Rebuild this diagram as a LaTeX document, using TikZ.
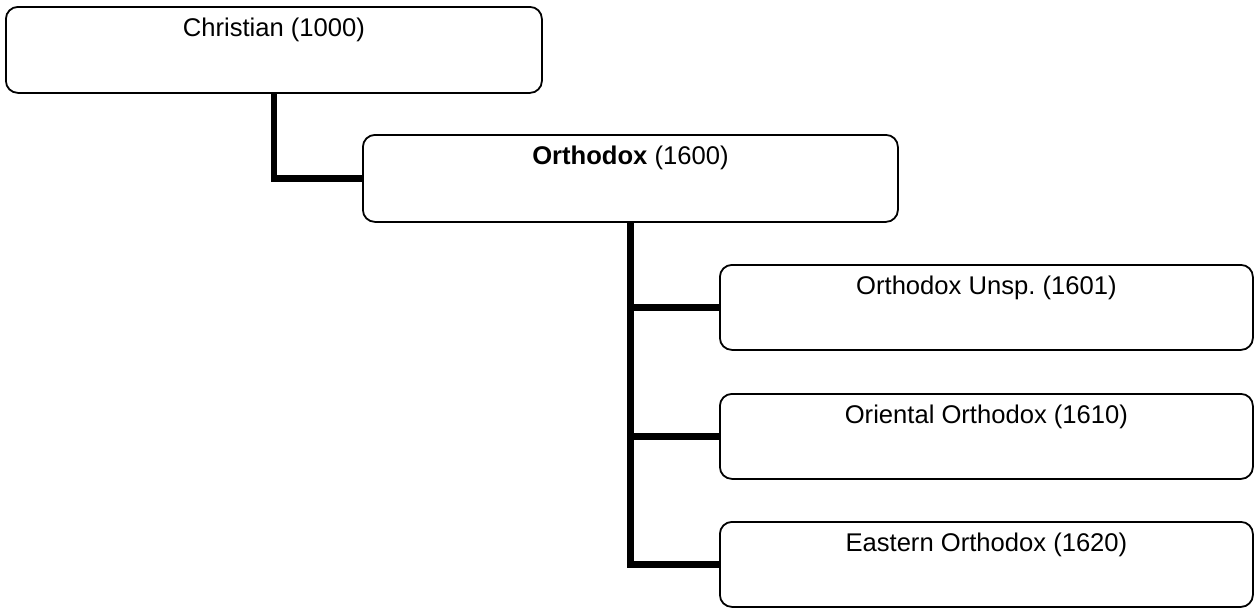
\documentclass[tikz,border=0pt]{standalone}
\usepackage{fontspec}
\setmainfont{Liberation Sans}
\usetikzlibrary{calc}
\frenchspacing
\begin{document}
\begin{tikzpicture}[x=1pt,y=-1pt,
  catbox/.style={draw=black,line width=1.8pt,rounded corners=12pt,fill=white,
    anchor=north west,inner sep=0pt,minimum height=86pt},
  cattext/.style={anchor=base,inner sep=0pt,font=\fontsize{25.6}{30}\selectfont},
  conn/.style={draw=black,line width=6.3pt}]
\useasboundingbox (0,0) rectangle (1254,608);
\node[catbox,minimum width=536pt] (c) at (5,6) {};
\node[catbox,minimum width=535pt,minimum height=87pt] (o) at (362,134) {};
\node[catbox,minimum width=533pt,minimum height=85pt] (u) at (719,264) {};
\node[catbox,minimum width=533pt,minimum height=85pt] (r) at (719,393) {};
\node[catbox,minimum width=533pt,minimum height=85pt] (e) at (719,521) {};
\draw[conn] (c.south) |- (o.west);
\draw[conn] (o.south) |- (u.west);
\draw[conn] (o.south) |- (r.west);
\draw[conn] (o.south) |- (e.west);
\node[cattext] (ct) at ($(c.north)+(0,30.8)$) {Christian (1000)};
\node[cattext] (ot) at ($(o.north)+(0,30.8)$) {\textbf{Orthodox} (1600)};
\node[cattext] (ut) at ($(u.north)+(0,30.8)$) {Orthodox Unsp.\ (1601)};
\node[cattext] (rt) at ($(r.north)+(0,30.8)$) {Oriental Orthodox (1610)};
\node[cattext] (et) at ($(e.north)+(0,30.8)$) {Eastern Orthodox (1620)};
\end{tikzpicture}
\end{document}
